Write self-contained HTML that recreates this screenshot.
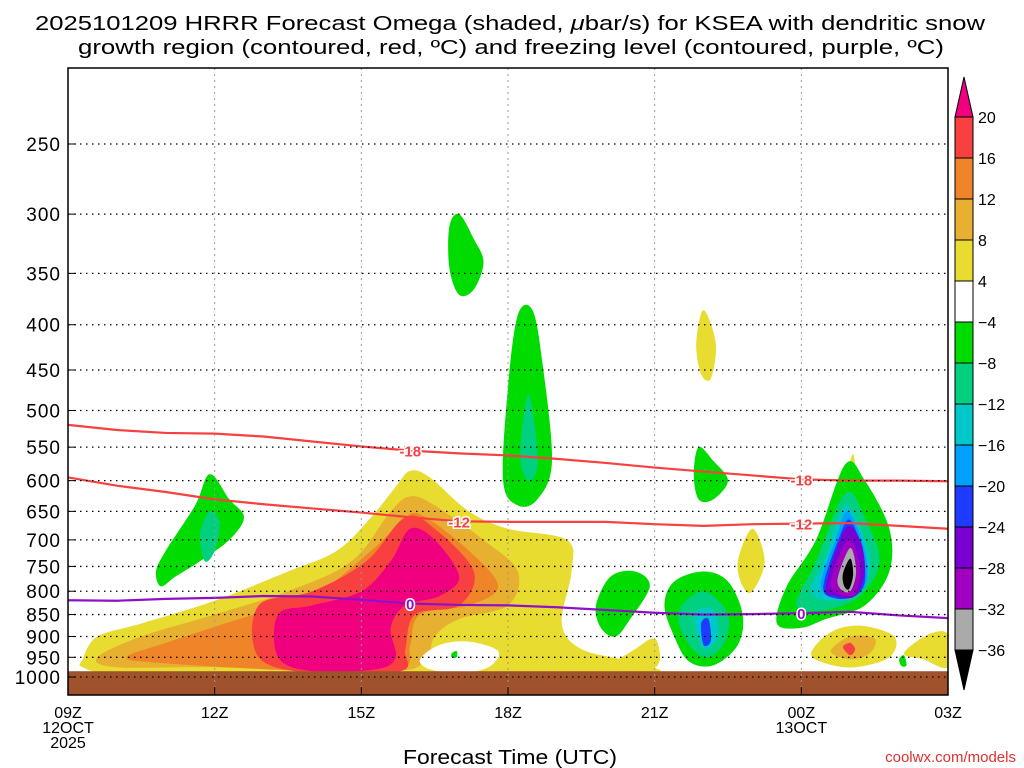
<!DOCTYPE html>
<html><head><meta charset="utf-8"><style>
html,body{margin:0;padding:0;background:#fff;width:1024px;height:768px;overflow:hidden}
svg{display:block;font-family:"Liberation Sans",sans-serif}
</style></head><body>
<svg id="c" width="1024" height="768" viewBox="0 0 1024 768">
<text x="35" y="30" font-size="20" textLength="950" lengthAdjust="spacingAndGlyphs">2025101209 HRRR Forecast Omega (shaded, <tspan font-style="italic">μ</tspan>bar/s) for KSEA with dendritic snow</text>
<text x="78" y="54" font-size="20" textLength="866" lengthAdjust="spacingAndGlyphs">growth region (contoured, red, ºC) and freezing level (contoured, purple, ºC)</text>
<g id="plot"></g>
<text x="403" y="764" font-size="20" textLength="214" lengthAdjust="spacingAndGlyphs">Forecast Time (UTC)</text>
<text x="1016" y="762" text-anchor="end" font-size="15" fill="#e03030">coolwx.com/models</text>
</svg>
<script>
const hours=[0,1,2,3,4,5,6,7,8,9,10,11,12,13,14,15,16,17,18];
const iso18=[519,526,530,531,535,542,549,555,559,562,567,573,580,586,592,598,600,600,601];
const iso12=[595,608,618,630,638,645,652,660,667,668,668,668,672,675,672,671,670,675,680];
const iso0=[819,820,816,814,810,811,818,826,829,830,834,840,846,850,849,847,844,852,858];
const pTicks=[250,300,350,400,450,500,550,600,650,700,750,800,850,900,950,1000];
const xTicks=[0,3,6,9,12,15,18];
const xLabels=["09Z","12Z","15Z","18Z","21Z","00Z","03Z"];
const cbLevels=["20","16","12","8","4","-4","-8","-12","-16","-20","-24","-28","-32","-36"];
const cbColors=["#f84040","#f08428","#e8b030","#e8dc30","#ffffff","#00dc00","#00d080","#00c8c8","#00a0ff","#1e3cff","#7800d0","#a000c0","#aaaaaa"];
const C={mag:"#f0007f",red:"#f84040",o2:"#f08428",o1:"#e8b030",yel:"#e8dc30",wht:"#ffffff",g:"#00dc00",t:"#00d080",cy:"#00c8c8",lb:"#00a0ff",bl:"#1e3cff",p1:"#7800d0",p2:"#a000c0",gr:"#aaaaaa",bk:"#000000"};
const blobs=[
["yel",[[0.3,955],[0.6,900],[1.5,870],[3,820],[4.5,760],[5.5,720],[6.2,660],[6.7,610],[7,585],[7.4,595],[8.2,650],[9,680],[10.2,700],[10.3,760],[10.1,870],[10.5,930],[11.5,960],[12,990],[9,990],[4,990],[1,990],[0.3,975]]],
["o1",[[0.6,950],[1.5,900],[3,850],[4.5,800],[5.8,740],[6.6,650],[7,625],[7.5,640],[8.5,700],[9.2,760],[9,830],[8,860],[7.5,900],[7.3,960],[6.5,985],[3,975],[1,975]]],
["o2",[[1.2,950],[2,915],[3.5,860],[5,810],[6.2,720],[6.8,670],[7.2,655],[8.2,720],[8.8,790],[8.2,830],[7.2,850],[7,920],[6.8,980],[5,985],[2,965]]],
["red",[[3.9,830],[5,800],[6.1,740],[6.9,660],[7.5,680],[8.3,760],[8,830],[7.1,850],[6.9,930],[6.8,985],[5,990],[3.9,950]]],
["mag",[[4.3,850],[5,830],[6,800],[6.6,740],[7,680],[7.5,700],[8,770],[7.6,810],[6.9,830],[6.6,880],[6.7,950],[6.3,980],[5,985],[4.3,950]]],
["wht",[[7.2,955],[7.6,920],[8.2,912],[8.8,935],[8.6,975],[8,990],[7.4,980]]],
["g",[[7.85,940],[7.95,935],[7.95,950],[7.85,950]]],
["yel",[[11.1,975],[11.6,930],[12,905],[12.1,960],[11.8,985]]],
["g",[[1.8,760],[2,720],[2.6,640],[2.9,590],[3.3,630],[3.6,660],[3.3,700],[2.7,740],[2.2,770],[1.9,790]]],
["t",[[2.7,690],[2.9,650],[3.1,670],[3,720],[2.8,740]]],
["g",[[7.8,310],[8,300],[8.3,320],[8.5,340],[8.3,365],[8,370],[7.8,345]]],
["g",[[8.9,600],[9,470],[9.2,390],[9.5,385],[9.7,440],[9.9,570],[9.6,630],[9.2,640]]],
["t",[[9.4,480],[9.55,520],[9.6,580],[9.4,600],[9.25,560]]],
["g",[[10.8,830],[11.1,770],[11.6,760],[11.9,790],[11.5,860],[11.2,900],[10.9,880]]],
["g",[[12.8,590],[12.9,550],[13.2,570],[13.5,600],[13.2,630],[12.9,630]]],
["g",[[12.2,830],[12.4,780],[13,760],[13.5,780],[13.8,850],[13.7,920],[13.2,970],[12.7,960],[12.4,900]]],
["t",[[12.5,840],[13,800],[13.5,850],[13.4,920],[13,950],[12.6,900]]],
["cy",[[12.8,850],[13.2,840],[13.3,900],[13,930]]],
["bl",[[12.95,870],[13.1,860],[13.15,910],[13,920]]],
["yel",[[12.85,420],[13.0,385],[13.25,420],[13.15,460],[12.95,455]]],
["yel",[[13.7,740],[14.0,680],[14.25,740],[14.0,800],[13.8,790]]],
["yel",[[15.95,590],[16.05,560],[16.1,580],[16.05,600]]],
["g",[[14.5,870],[14.7,790],[15.3,700],[15.9,575],[16.3,600],[16.8,680],[16.8,760],[16.3,830],[15.5,860],[15,880]]],
["t",[[14.9,830],[15.3,740],[15.9,620],[16.3,660],[16.6,740],[16.2,810],[15.5,840]]],
["cy",[[15.2,800],[15.5,730],[15.9,640],[16.3,700],[16.4,760],[16.1,810],[15.6,820]]],
["lb",[[15.4,790],[15.7,700],[15.95,650],[16.3,720],[16.3,790],[15.8,815]]],
["bl",[[15.45,790],[15.8,690],[16,665],[16.25,720],[16.3,780],[16.1,810],[15.7,815]]],
["p1",[[15.5,790],[15.9,680],[16.2,700],[16.3,760],[16.1,810],[15.7,810]]],
["p2",[[15.6,780],[15.95,700],[16.2,750],[16.1,805],[15.75,805]]],
["gr",[[15.75,770],[16,715],[16.12,760],[16,800],[15.8,795]]],
["bk",[[15.85,765],[16,735],[16.06,765],[15.98,795],[15.88,790]]],
["yel",[[15.2,940],[15.6,890],[16.2,875],[16.9,900],[16.8,950],[16.1,975],[15.5,965]]],
["o1",[[15.6,935],[16,900],[16.5,905],[16.4,940],[16,955]]],
["red",[[15.85,925],[16,915],[16.1,930],[16,945]]],
["yel",[[17.1,940],[17.6,895],[18,895],[18,975],[17.5,955]]],
["g",[[17.0,955],[17.1,945],[17.15,970],[17.05,972]]]
];
const NS="http://www.w3.org/2000/svg";
const X0=68,X1=948,Y0=68,Y1=695;
const xs=h=>X0+h*(X1-X0)/18;
const ys=p=>144+(Math.log(p)-Math.log(250))*384.5;
const g=document.getElementById('plot');
function mk(t,a,parent){const e=document.createElementNS(NS,t);for(const k in a)e.setAttribute(k,a[k]);(parent||g).appendChild(e);return e;}
function smooth(pts){const P=pts.map(q=>[xs(q[0]),ys(q[1])]);const n=P.length;let d="M"+P[0][0]+","+P[0][1];
for(let i=0;i<n;i++){const p0=P[(i-1+n)%n],p1=P[i],p2=P[(i+1)%n],p3=P[(i+2)%n];
const c1=[p1[0]+(p2[0]-p0[0])/6,p1[1]+(p2[1]-p0[1])/6],c2=[p2[0]-(p3[0]-p1[0])/6,p2[1]-(p3[1]-p1[1])/6];
d+=` C${c1[0]},${c1[1]} ${c2[0]},${c2[1]} ${p2[0]},${p2[1]}`;}
return d+"Z";}
const clip=mk('clipPath',{id:'pc'});mk('rect',{x:X0,y:Y0,width:X1-X0,height:Y1-Y0},clip);
const sh=mk('g',{'clip-path':'url(#pc)'});


blobs.forEach(b=>{const e=mk('path',{d:smooth(b[1]),fill:C[b[0]]},sh);

});
const gr=mk('rect',{x:X0,y:ys(985),width:X1-X0,height:Y1-ys(985),fill:'#a0522d'});


pTicks.forEach(p=>{const y=ys(p);
const l=mk('line',{x1:X0,x2:X1,y1:y,y2:y,stroke:'#000','stroke-dasharray':'1.5,4.5','stroke-width':1.3});


mk('line',{x1:X0,x2:X0+8,y1:y,y2:y,stroke:'#000'});
const t=mk('text',{x:61,y:y+7,'text-anchor':'end','font-size':19,'letter-spacing':1});t.textContent=p;

});
xTicks.forEach((h,i)=>{const x=xs(h);
if(i>0&&i<xTicks.length-1){const l=mk('line',{x1:x,x2:x,y1:Y0,y2:Y1,stroke:'#999','stroke-dasharray':'2,4'});

}
mk('line',{x1:x,x2:x,y1:Y1,y2:Y1-8,stroke:'#000'});
const t=mk('text',{x:x,y:718,'text-anchor':'middle','font-size':16});t.textContent=xLabels[i];

});
[[0,"12OCT",733],[0,"2025",748],[15,"13OCT",733]].forEach(a=>{const t=mk('text',{x:xs(a[0]),y:a[2],'text-anchor':'middle','font-size':16});t.textContent=a[1];

});
function line(vals,color,name,labels,txt){
const d=hours.map((h,i)=>(i?"L":"M")+xs(h)+","+ys(vals[i])).join(" ");
const e=mk('path',{d:d,fill:'none',stroke:color,'stroke-width':2.2},sh);


labels.forEach(h=>{const i=Math.round(h);const y=ys(vals[i]);
const t=mk('text',{x:xs(h),y:y+6,'text-anchor':'middle','font-size':15,'font-weight':'bold',fill:color,stroke:'#fff','stroke-width':3,'paint-order':'stroke'});t.textContent=txt;

});}
line(iso18,'#f84040','contour-minus18',[7,15],'-18');
line(iso12,'#f84040','contour-minus12',[8,15],'-12');
line(iso0,'#9010c8','freezing-level',[7,15],'0');
const fr=mk('rect',{x:X0,y:Y0,width:X1-X0,height:Y1-Y0,fill:'none',stroke:'#000','stroke-width':1.5});


const cx=955,cw=18,ct=117,bh=41;
const cb=mk('g',{});


mk('polygon',{points:`${cx},${ct} ${cx+cw},${ct} ${cx+cw/2},${ct-40}`,fill:C.mag,stroke:'#000'},cb);
cbColors.forEach((c,i)=>{const r=mk('rect',{x:cx,y:ct+i*bh,width:cw,height:bh,fill:c,stroke:'#000'},cb);

});
const cbe=ct+cbColors.length*bh;
mk('polygon',{points:`${cx},${cbe} ${cx+cw},${cbe} ${cx+cw/2},${cbe+40}`,fill:'#000',stroke:'#000'},cb);
cbLevels.forEach((s,i)=>{const t=mk('text',{x:cx+cw+5,y:ct+i*bh+6,'font-size':16},cb);t.textContent=s.replace('-','−');

});
</script>
</body></html>
